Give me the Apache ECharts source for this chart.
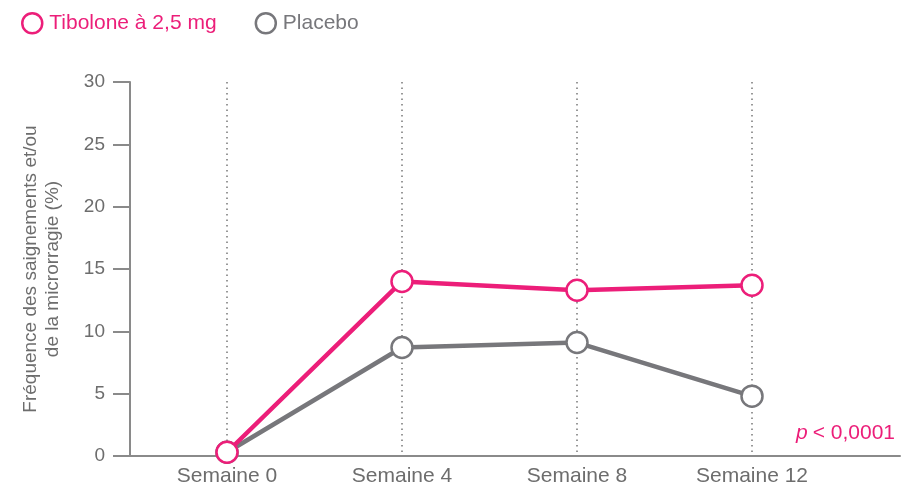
<!DOCTYPE html>
<html>
<head>
<meta charset="utf-8">
<script src="https://cdn.jsdelivr.net/npm/echarts@6/dist/echarts.min.js"></script>
<style>
html,body{margin:0;padding:0;background:#fff;}
#chart{width:920px;height:490px;}
</style>
</head>
<body>
<div id="chart"></div>
<script>
var categories = ['Semaine 0', 'Semaine 4', 'Semaine 8', 'Semaine 12'];
var tiboloneValues = [0.3, 14.0, 13.3, 13.7];
var placeboValues = [0.3, 8.7, 9.1, 4.8];
var seriesNames = ['Tibolone à 2,5 mg', 'Placebo'];
var yTicks = [0, 5, 10, 15, 20, 25, 30];
var pText = '< 0,0001';

var PINK = '#EC1E79';
var GREY = '#77777B';
var AXIS = '#8a8a8a';
var TXT = '#6d6d6d';
var FONT = 'Liberation Sans, Arial, sans-serif';

var chart = echarts.init(document.getElementById('chart'));
var gridTop = 82, gridBottom = 34;

function lineSeries(name, data, color) {
  return {
    name: name,
    type: 'line',
    xAxisIndex: 1,
    yAxisIndex: 1,
    data: data,
    symbol: 'circle',
    symbolSize: 21,
    lineStyle: { color: color, width: 4.5 },
    itemStyle: { color: '#fff', borderColor: color, borderWidth: 2.5 },
    z: name === seriesNames[0] ? 4 : 3,
    emphasis: { disabled: true },
    animation: false
  };
}

chart.setOption({
  backgroundColor: '#fff',
  animation: false,
  legend: {
    left: 16,
    top: 7,
    itemGap: 38,
    itemWidth: 20,
    itemHeight: 20,
    icon: 'circle',
    data: seriesNames.map(function (n, i) {
      var c = i === 0 ? PINK : GREY;
      return {
        name: n,
        itemStyle: { color: '#fff', borderColor: c, borderWidth: 2.5 },
        textStyle: { color: c, fontSize: 21, fontFamily: FONT, padding: [0, 0, 0, 2] }
      };
    }),
    selectedMode: false
  },
  grid: [
    { left: 130, right: 20, top: gridTop, bottom: gridBottom, containLabel: false },
    { left: 227, right: 168, top: gridTop, bottom: gridBottom, containLabel: false }
  ],
  xAxis: [
    {
      gridIndex: 0, type: 'value', min: 0, max: 1,
      axisLine: { show: true, lineStyle: { color: AXIS, width: 2 } },
      axisTick: { show: false }, axisLabel: { show: false }, splitLine: { show: false }
    },
    {
      gridIndex: 1, type: 'category', data: categories, boundaryGap: false,
      axisLine: { show: false }, axisTick: { show: false },
      axisLabel: { color: TXT, fontSize: 21, fontFamily: FONT, margin: 10 },
      splitLine: { show: true, lineStyle: { color: '#777', type: [1.5, 4], width: 1.5 } }
    }
  ],
  yAxis: [
    {
      gridIndex: 0, type: 'value', min: 0, max: 30, interval: 5,
      name: 'Fréquence des saignements et/ou\nde la microrragie (%)',
      nameLocation: 'middle', nameGap: 66, nameRotate: 90,
      nameTextStyle: { color: TXT, fontSize: 19, fontFamily: FONT, lineHeight: 22 },
      axisLine: { show: true, lineStyle: { color: AXIS, width: 2 } },
      axisTick: { show: true, length: 17, lineStyle: { color: AXIS, width: 2 } },
      axisLabel: { color: TXT, fontSize: 19, fontFamily: FONT, margin: 25,
        formatter: function (v) { return yTicks.indexOf(v) >= 0 ? String(v) : ''; } },
      splitLine: { show: false }
    },
    {
      gridIndex: 1, type: 'value', min: 0, max: 30, interval: 5, show: false,
      splitLine: { show: false }
    }
  ],
  title: {
    right: 20,
    top: 418,
    text: '{p|p} {t|' + pText + '}',
    textStyle: {
      fontWeight: 'normal',
      rich: {
        p: { color: PINK, fontSize: 21, fontStyle: 'italic', fontWeight: 'normal', fontFamily: FONT },
        t: { color: PINK, fontSize: 21, fontWeight: 'normal', fontFamily: FONT }
      }
    }
  },
  series: [
    lineSeries(seriesNames[1], placeboValues, GREY),
    lineSeries(seriesNames[0], tiboloneValues, PINK)
  ]
});
</script>
</body>
</html>
